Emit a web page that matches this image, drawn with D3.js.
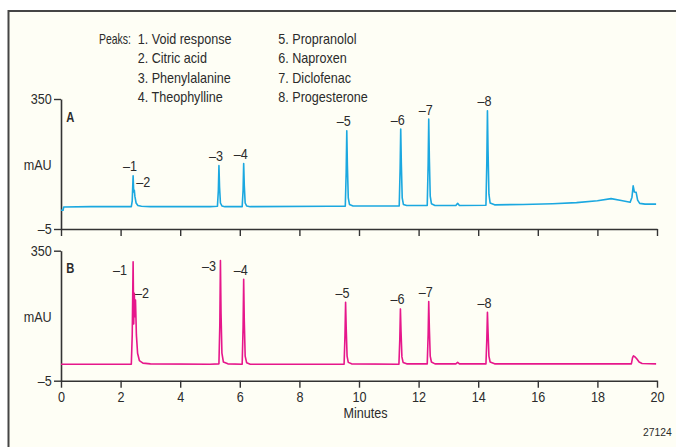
<!DOCTYPE html>
<html>
<head>
<meta charset="utf-8">
<script src="https://cdn.jsdelivr.net/npm/d3@7"></script>
<style>
  html, body { margin: 0; padding: 0; background: #ffffff; }
  svg { display: block; }
  text { font-family: "Liberation Sans", Arial, sans-serif; fill: #2b2b2b; }
</style>
</head>
<body>
<svg id="chart" width="676" height="447"></svg>
<script>
// ---------------- DATA ----------------
const xTicks = [0, 2, 4, 6, 8, 10, 12, 14, 16, 18, 20];
const yTicks = [-5, 350];
const peakIds = [1, 2, 3, 4, 5, 6, 7, 8];
const peakNames = ["Void response", "Citric acid", "Phenylalanine", "Theophylline",
                   "Propranolol", "Naproxen", "Diclofenac", "Progesterone"];

// Chromatogram A (minutes, mAU)
const traceA = [
  [0.00, 46], [0.07, 46], [0.09, 55], [1.00, 56], [2.00, 56], [2.36, 56],
  [2.39, 72], [2.42, 140], [2.44, 96], [2.46, 101], [2.48, 84], [2.52, 66], [2.58, 59], [2.70, 57], [3.00, 56],
  [5.00, 56], [5.25, 57], [5.28, 100], [5.30, 168], [5.32, 110], [5.35, 66], [5.40, 58], [5.50, 56],
  [6.08, 56], [6.11, 100], [6.13, 174], [6.15, 115], [6.18, 66], [6.23, 58], [6.35, 56],
  [9.00, 57], [9.54, 57], [9.57, 150], [9.59, 263], [9.61, 170], [9.64, 80], [9.68, 62], [9.80, 58],
  [11.35, 58], [11.38, 160], [11.40, 268], [11.42, 175], [11.45, 80], [11.49, 62], [11.60, 59],
  [12.29, 59], [12.32, 170], [12.34, 295], [12.36, 190], [12.39, 85], [12.43, 64], [12.55, 59],
  [13.25, 59], [13.31, 65], [13.37, 59],
  [14.26, 60], [14.29, 180], [14.31, 318], [14.33, 210], [14.36, 90], [14.40, 66], [14.55, 61],
  [15.50, 62], [16.50, 64], [17.30, 67], [18.00, 72], [18.46, 78], [18.80, 73], [19.10, 68],
  [19.16, 82], [19.20, 113], [19.24, 96], [19.30, 95], [19.35, 74], [19.42, 65], [19.60, 63], [19.97, 63]
];
const peakTimeA = [2.42, 2.46, 5.30, 6.13, 9.59, 11.40, 12.34, 14.31];
const peakTopA  = [140, 101, 168, 174, 263, 268, 295, 318];

// Chromatogram B (minutes, mAU)
const traceB = [
  [0.00, 40], [1.00, 40], [2.00, 40], [2.36, 40],
  [2.39, 120], [2.42, 320], [2.44, 150], [2.46, 234], [2.48, 170], [2.50, 215], [2.53, 120], [2.57, 70], [2.63, 50], [2.75, 43], [3.00, 41],
  [5.00, 40], [5.30, 41], [5.33, 150], [5.35, 323], [5.37, 180], [5.40, 70], [5.45, 46], [5.60, 41],
  [6.08, 40], [6.11, 140], [6.13, 272], [6.15, 160], [6.18, 62], [6.23, 44], [6.35, 40],
  [9.00, 40], [9.50, 40], [9.53, 120], [9.55, 209], [9.57, 140], [9.60, 62], [9.64, 45], [9.75, 41],
  [11.34, 40], [11.37, 110], [11.39, 191], [11.41, 130], [11.44, 60], [11.48, 45], [11.60, 41],
  [12.29, 41], [12.32, 120], [12.34, 211], [12.36, 140], [12.39, 62], [12.43, 46], [12.55, 41],
  [13.25, 41], [13.31, 45], [13.37, 41],
  [14.26, 41], [14.29, 110], [14.31, 182], [14.33, 130], [14.36, 62], [14.40, 46], [14.55, 41],
  [16.00, 41], [18.00, 41], [19.14, 41], [19.18, 58], [19.21, 63], [19.26, 60], [19.32, 55], [19.40, 46], [19.50, 42], [19.97, 41]
];
const peakTimeB = [2.42, 2.50, 5.35, 6.13, 9.55, 11.39, 12.34, 14.31];
const peakTopB  = [320, 215, 323, 272, 209, 191, 211, 182];

// ---------------- LAYOUT / STYLE ----------------
const W = 676, H = 447;
const colorA = "#1ba8e0";
const colorB = "#e6178b";
const axisColor = "#333333";
const fontSize = 14;
const squeeze = 0.9; // horizontal condensation of the typeface

// label placement tweaks (pixels) keyed by panel and peak index
const labelPlace = {
  A: { default: {anchor: "end", dx: 4, dy: -4.5}, 1: {anchor: "start", dx: 2, dy: -3.5} },
  B: { default: {anchor: "end", dx: 4, dy: -4.5},
       0: {anchor: "end", dx: -6, dy: 13}, 1: {anchor: "start", dx: -0.5, dy: -2},
       2: {anchor: "end", dx: -4.5, dy: 10.5} }
};

const svg = d3.select("#chart");

function addText(parent, x, y, str, opts = {}) {
  const t = parent.append("text")
    .attr("transform", `translate(${x},${y}) scale(${opts.sx || squeeze},1)`)
    .attr("font-size", opts.size || fontSize)
    .attr("text-anchor", opts.anchor || "start")
    .text(str);
  if (opts.weight) t.attr("font-weight", opts.weight);
  if (opts.fill) t.attr("fill", opts.fill);
  if (opts.dy) t.attr("dy", opts.dy);
  if (opts.len) t.attr("textLength", opts.len).attr("lengthAdjust", "spacingAndGlyphs");
  return t;
}

// background and frame
svg.append("rect").attr("x", 0).attr("y", 0).attr("width", W).attr("height", H).attr("fill", "#ffffff");
svg.append("rect").attr("x", 8.5).attr("y", 11).attr("width", W - 8.5).attr("height", H - 11).attr("fill", "#fefef5");
svg.append("path").attr("d", `M8.5,${H} V11 H${W}`).attr("fill", "none")
   .attr("stroke", "#454545").attr("stroke-width", 2);

const x = d3.scaleLinear().domain([0, 20]).range([61, 657]);

const panels = [
  {key: "A", trace: traceA, times: peakTimeA, tops: peakTopA, color: colorA, y0: 229, y1: 99, showX: false},
  {key: "B", trace: traceB, times: peakTimeB, tops: peakTopB, color: colorB, y0: 380.7, y1: 250.7, showX: true}
];

const fmt = d => String(d).replace("-", "\u2013");

panels.forEach(p => {
  const y = d3.scaleLinear().domain([-5, 350]).range([p.y0, p.y1]);
  const g = svg.append("g");

  // x axis
  const xAxis = d3.axisBottom(x).tickValues(xTicks).tickSize(7).tickSizeOuter(0).tickPadding(4)
    .tickFormat(p.showX ? d3.format("d") : () => "");
  const gx = g.append("g").attr("transform", `translate(0,${p.y0})`).call(xAxis);

  // y axis
  const yAxis = d3.axisLeft(y).tickValues(yTicks).tickSize(7).tickSizeOuter(0).tickPadding(3.3).tickFormat(fmt);
  const gy = g.append("g").attr("transform", `translate(${x(0)},0)`).call(yAxis);

  [gx, gy].forEach(ax => {
    ax.select(".domain").attr("stroke", axisColor).attr("stroke-width", 1.6);
    ax.selectAll(".tick line").attr("stroke", axisColor).attr("stroke-width", 1.4);
    ax.selectAll("text").attr("font-size", fontSize).attr("fill", "#2b2b2b")
      .attr("font-family", '"Liberation Sans", Arial, sans-serif')
      .attr("transform", `scale(${squeeze},1)`);
  });

  // mAU label
  addText(g, 51.7, (p.y0 + p.y1) / 2 + 1.5, "mAU", {anchor: "end", dy: "0.32em"});

  // panel letter
  addText(g, 66.3, p.y1 + 22.5, p.key, {size: 14, weight: "bold", fill: "#111", sx: 0.8});

  // trace
  const line = d3.line().x(d => x(d[0])).y(d => y(d[1]));
  g.append("path").datum(p.trace).attr("d", line).attr("fill", "none")
    .attr("stroke", p.color).attr("stroke-width", 1.6).attr("stroke-linejoin", "round");

  // peak labels
  peakIds.forEach((id, i) => {
    const pl = labelPlace[p.key][i] || labelPlace[p.key].default;
    addText(g, x(p.times[i]) + pl.dx, y(p.tops[i]) + pl.dy, "\u2013" + id, {anchor: pl.anchor});
  });
});

// x axis title
addText(svg, x(10) + 6.5, 417.5, "Minutes", {anchor: "middle"});

// legend
const legendX1 = 137.7, legendX2 = 278.3, legendY = 44.2, legendDy = 19.2;
addText(svg, 99, legendY, "Peaks:", {len: 32 / squeeze});
peakIds.forEach((id, i) => {
  const col = i < 4 ? 0 : 1;
  const row = i % 4;
  addText(svg, col === 0 ? legendX1 : legendX2, legendY + row * legendDy, id + ". " + peakNames[i]);
});

// figure number
addText(svg, 671.7, 435.5, "27124", {anchor: "end", size: 11.5});
</script>
</body>
</html>
